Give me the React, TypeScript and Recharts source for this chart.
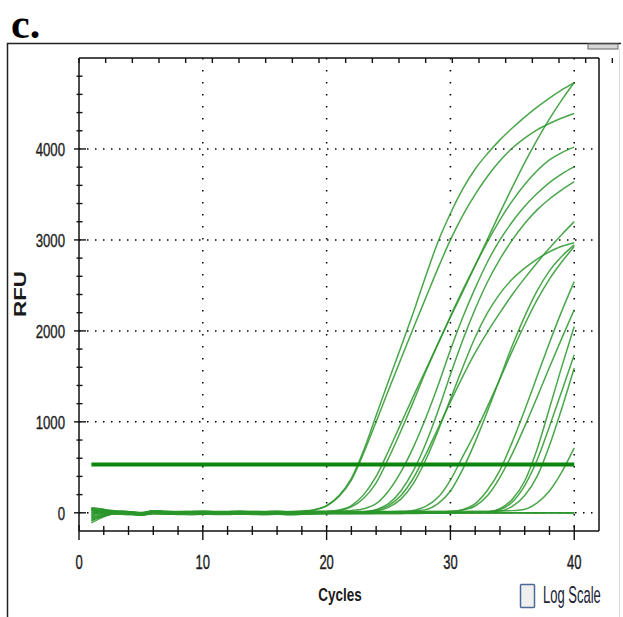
import React from "react";
import { LineChart, Line, XAxis, YAxis, CartesianGrid, ReferenceLine } from "recharts";

// amplification data, RFU per cycle (cycles 1..40)
const cycles = [1,2,3,4,5,6,7,8,9,10,11,12,13,14,15,16,17,18,19,20,21,22,23,24,25,26,27,28,29,30,31,32,33,34,35,36,37,38,39,40];
const threshold = 530;

const xTicks = [0,2,4,6,8,10,12,14,16,18,20,22,24,26,28,30,32,34,36,38,40];
const xLabels = [0,10,20,30,40];
const yTicks = [0,200,400,600,800,1000,1200,1400,1600,1800,2000,2200,2400,2600,2800,3000,3200,3400,3600,3800,4000,4200,4400,4600,4800];
const yLabels = [0,1000,2000,3000,4000];
const xGrid = [10,20,30,40];
const yGrid = [0,1000,2000,3000,4000];

const wA1 = [-90,-30,5,-8,-22,0,-10,-12,-6,-8,-10,-12,-8,-6,-10,-8,0,12,30,80,190,380,690,1070,1450,1820,2200,2600,2980,3290,3560,3780,3950,4100,4230,4350,4460,4560,4650,4730];
const wA2 = [-60,-10,18,12,-5,20,10,8,12,14,9,10,12,10,8,10,14,20,35,75,180,360,660,1000,1350,1690,2030,2360,2690,3000,3270,3500,3700,3870,4010,4120,4210,4280,4340,4390];
const wB1 = [40,22,8,2,-10,10,4,6,2,3,6,4,0,2,5,3,-2,4,6,12,30,80,200,400,680,980,1280,1570,1860,2150,2430,2720,3010,3300,3580,3850,4100,4330,4540,4730];
const wC1 = [-30,30,-12,-10,-28,-4,-14,-12,-8,-14,-12,-10,-13,-9,-15,-12,-8,-9,-6,0,25,65,160,330,600,900,1220,1550,1860,2160,2450,2720,2980,3220,3430,3610,3760,3880,3960,4020];
const wC2 = [50,35,20,12,-2,22,16,12,15,18,13,15,17,14,15,18,12,14,16,18,20,26,45,100,240,450,720,1040,1400,1790,2150,2470,2760,3000,3200,3370,3510,3630,3725,3805];
const wC3 = [-110,-45,-5,2,-22,3,-5,0,-2,-5,0,-2,-1,-4,1,-2,-8,-5,-3,0,3,6,12,35,100,240,460,760,1120,1520,1900,2240,2540,2790,3000,3180,3330,3450,3550,3640];
const wC4 = [20,6,-6,5,-14,12,2,0,5,3,-1,4,2,5,1,-1,2,4,0,3,5,8,12,30,80,190,380,640,930,1220,1500,1760,1990,2200,2400,2580,2750,2910,3060,3201];
const wC5 = [-50,-28,-14,-20,-26,-12,-16,-18,-21,-16,-18,-19,-14,-18,-21,-16,-20,-17,-13,-10,-6,0,10,20,60,150,320,580,900,1250,1600,1930,2200,2410,2570,2690,2790,2870,2930,2970];
const wD1 = [0,15,-5,4,-12,8,-2,3,0,-4,2,1,-2,0,3,-1,-5,0,2,-3,0,2,1,3,5,8,25,70,170,360,620,880,1170,1470,1780,2070,2340,2570,2760,2927];
const wD2 = [30,12,14,6,-6,18,10,8,12,9,8,12,10,6,10,11,5,10,9,11,8,10,12,12,14,16,20,35,100,240,480,780,1120,1480,1840,2160,2440,2660,2820,2945];
const wE1 = [-80,-32,-8,-12,-26,-8,-14,-12,-10,-15,-12,-10,-14,-11,-12,-13,-18,-16,-12,-10,-13,-12,-9,-10,-11,-9,-7,-5,-2,10,35,100,250,470,780,1130,1500,1870,2220,2542];
const wE2 = [55,40,8,12,0,20,12,8,10,12,8,10,13,9,12,10,6,10,8,11,13,10,9,12,13,11,13,14,15,18,30,75,190,390,650,950,1270,1600,1920,2232];
const wF1 = [-20,5,12,-3,-14,8,0,2,-3,1,3,-1,0,2,-2,0,-4,-1,2,0,-2,1,0,2,-1,0,3,2,1,3,4,6,10,45,150,350,700,1150,1610,2048];
const wF2 = [10,-15,-2,-6,-18,2,-8,-5,-4,-8,-6,-5,-9,-4,-5,-8,-10,-4,-6,-7,-5,-6,-8,-5,-4,-6,-3,-2,-4,0,2,4,8,35,120,300,580,950,1340,1738];
const wF3 = [-40,-5,-12,4,-17,7,2,-1,0,3,-1,0,2,-2,0,1,-6,0,1,-2,0,2,-1,0,1,3,0,2,3,2,4,6,10,20,70,190,400,740,1150,1592];
const wG1 = [25,25,18,14,4,22,16,15,14,17,15,13,16,15,12,17,10,12,15,14,16,13,14,15,12,14,16,15,14,16,15,17,18,20,24,40,110,240,450,713];
const wN1 = [-70,-35,0,3,-15,8,-2,1,0,-2,1,0,-1,2,-2,0,-5,-3,0,1,-2,0,2,-1,0,1,-2,0,1,-1,0,2,-1,0,1,-2,0,1,-1,0];
const wN2 = [45,20,10,0,-8,12,2,-2,3,1,-1,2,0,-2,1,3,-2,1,2,0,-1,3,1,0,-2,2,1,0,-1,2,1,-1,0,2,1,0,-1,1,2,0];
const wN3 = [-10,0,-6,5,-20,4,-1,3,-2,0,2,-3,1,0,-1,2,-6,-2,1,-1,0,1,-2,0,2,-1,0,-2,1,0,-1,1,0,-2,0,1,-1,0,2,-1];

const wells = [wA1, wA2, wB1, wC1, wC2, wC3, wC4, wC5, wD1, wD2, wE1, wE2, wF1, wF2, wF3, wG1, wN1, wN2, wN3];

const rows = cycles.map((c, i) => {
  const r: any = { cycle: c };
  wells.forEach((w, j) => { r["w" + j] = w[i]; });
  return r;
});

const font = "'Liberation Sans', Arial, sans-serif";
const ink = "#111";
const labelInk = "#1c1c1c";

function BottomTick(props: any) {
  const { x, y, payload } = props;
  const major = xLabels.includes(payload.value);
  return (
    <g>
      <line x1={x} x2={x} y1={y - (major ? 6 : 5)} y2={y + (major ? 9 : 4)} stroke={ink} strokeWidth={1.4} />
      {major && (
        <g transform={`translate(${x},${y + 38}) scale(1,1.5)`}>
          <text x={0} y={0} textAnchor="middle" fontFamily={font} fontSize={13} fill={labelInk} stroke={labelInk} strokeWidth={0.25}>{payload.value}</text>
        </g>
      )}
    </g>
  );
}

function LeftTick(props: any) {
  const { x, y, payload } = props;
  const major = yLabels.includes(payload.value);
  return (
    <g>
      <line x1={x - (major ? 5 : 2.5)} x2={x + (major ? 7 : 3.5)} y1={y} y2={y} stroke={ink} strokeWidth={1.4} />
      {major && (
        <g transform={`translate(${x - 14},${y + 6.7}) scale(1,1.42)`}>
          <text x={0} y={0} textAnchor="end" fontFamily={font} fontSize={13.2} fill={labelInk} stroke={labelInk} strokeWidth={0.25}>{payload.value}</text>
        </g>
      )}
    </g>
  );
}

function TopTick(props: any) {
  const { x, y } = props;
  return <line x1={x} x2={x} y1={y} y2={y + 5} stroke={ink} strokeWidth={1.4} />;
}

function RightTick(props: any) {
  const { x, y, payload } = props;
  const major = yLabels.includes(payload.value);
  return <line x1={x - (major ? 7 : 3.5)} x2={x} y1={y} y2={y} stroke={ink} strokeWidth={1.4} />;
}

export default function App() {
  return (
    <div style={{ position: "absolute", left: 0, top: 0, width: 623, height: 617, background: "#fff", overflow: "hidden" }}>
      <svg width={623} height={617} style={{ position: "absolute", left: 0, top: 0 }}>
        <text x={11} y={37.5} fontFamily="'Liberation Serif', 'Times New Roman', serif" fontWeight="bold" fontSize={42} fill="#000">c.</text>
        <path d="M7.5 617 V43.5 H621" fill="none" stroke="#222" strokeWidth={1.5} />
        <rect x={588} y={44} width={30} height={5} fill="#d6d6d6" stroke="#666" strokeWidth={1} />
        <line x1={619.5} x2={619.5} y1={49} y2={617} stroke="#ddd" strokeWidth={1} />
        <text transform="translate(25.5,294) scale(1,1.4) rotate(-90)" textAnchor="middle" fontFamily={font} fontWeight="bold" fontSize={16} fill="#1a1a1a">RFU</text>
        <g transform="translate(340,601) scale(1,1.3)">
          <text x={0} y={0} textAnchor="middle" fontFamily={font} fontWeight="bold" fontSize={13.5} fill="#1a1a1a">Cycles</text>
        </g>
        <rect x={520.5} y={584.5} width={14} height={23} rx={1} fill="#efefef" stroke="#4a6a94" strokeWidth={1.5} />
        <g transform="translate(543,603) scale(1,1.8)">
          <text x={0} y={0} fontFamily={font} fontSize={13} fill="#1a2233">Log Scale</text>
        </g>
      </svg>
      <div style={{ position: "absolute", left: 0, top: 0 }}>
        <LineChart width={623} height={617} data={rows} margin={{ top: 57, right: 23, bottom: 85, left: 78 }}>
          <CartesianGrid horizontal vertical={false} horizontalValues={yGrid} stroke="#000" strokeWidth={1.5} strokeDasharray="1.5 6.5" />
          <CartesianGrid horizontal={false} vertical verticalValues={xGrid} stroke="#000" strokeWidth={1.5} strokeDasharray="1.5 10.5" />
          <XAxis dataKey="cycle" type="number" domain={[0, 42]} ticks={xTicks} interval={0} height={1}
            tickSize={0} tickMargin={0} tickLine={false} axisLine={{ stroke: ink, strokeWidth: 1.5 }}
            tick={(p: any) => <BottomTick {...p} />} />
          <XAxis xAxisId="top" orientation="top" type="number" domain={[0, 42]} ticks={xTicks} interval={0} height={1}
            tickSize={0} tickMargin={0} tickLine={false} axisLine={{ stroke: ink, strokeWidth: 1.5 }}
            tick={(p: any) => <TopTick {...p} />} />
          <YAxis type="number" domain={[-200, 5000]} ticks={yTicks} interval={0} width={1}
            tickSize={0} tickMargin={0} tickLine={false} axisLine={{ stroke: ink, strokeWidth: 1.5 }}
            tick={(p: any) => <LeftTick {...p} />} />
          <YAxis yAxisId="right" orientation="right" type="number" domain={[-200, 5000]} ticks={yTicks} interval={0} width={1}
            tickSize={0} tickMargin={0} tickLine={false} axisLine={{ stroke: ink, strokeWidth: 1.5 }}
            tick={(p: any) => <RightTick {...p} />} />
          {wells.map((_, j) => (
            <Line key={j} type="monotone" dataKey={"w" + j} stroke="#2a962a" strokeOpacity={0.85} strokeWidth={1.5}
              dot={false} activeDot={false} isAnimationActive={false} />
          ))}
          <ReferenceLine segment={[{ x: cycles[0], y: threshold }, { x: cycles[cycles.length - 1], y: threshold }]}
            stroke="#0b850b" strokeWidth={4} />
        </LineChart>
      </div>
    </div>
  );
}
